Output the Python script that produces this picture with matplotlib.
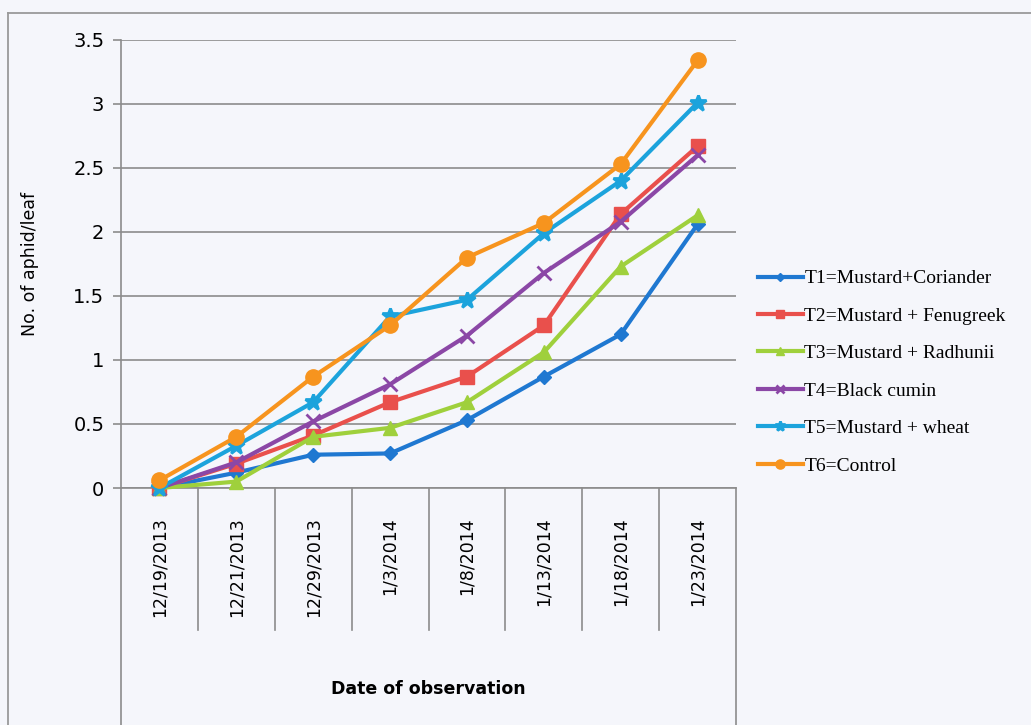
import numpy as np
import matplotlib
matplotlib.use("Agg")
import matplotlib.pyplot as plt
import matplotlib.transforms as mtransforms

dates = ["12/19/2013", "12/21/2013", "12/29/2013", "1/3/2014",
         "1/8/2014", "1/13/2014", "1/18/2014", "1/23/2014"]

t1 = [0.0, 0.12, 0.26, 0.27, 0.53, 0.87, 1.20, 2.06]
t2 = [0.0, 0.19, 0.41, 0.67, 0.87, 1.27, 2.14, 2.67]
t3 = [0.0, 0.05, 0.40, 0.47, 0.67, 1.06, 1.73, 2.13]
t4 = [0.0, 0.20, 0.52, 0.81, 1.19, 1.68, 2.08, 2.60]
t5 = [0.0, 0.33, 0.67, 1.34, 1.47, 1.99, 2.40, 3.01]
t6 = [0.06, 0.40, 0.87, 1.27, 1.80, 2.07, 2.53, 3.34]

labels = ["T1=Mustard+Coriander", "T2=Mustard + Fenugreek", "T3=Mustard + Radhunii",
          "T4=Black cumin", "T5=Mustard + wheat", "T6=Control"]
series = [t1, t2, t3, t4, t5, t6]
colors = ["#1f78d1", "#e9504c", "#9fd03c", "#8b47a6", "#1ca3dc", "#f7941e"]
markers = ["D", "s", "^", "x", "*", "o"]
msizes = [7, 10, 10, 10, 12, 11]

bg = "#f5f6fb"
fig = plt.figure(figsize=(10.31, 7.25), dpi=100, facecolor=bg)
W, H = 1031, 725
ax = fig.add_axes([121 / W, (H - 488) / H, (736 - 121) / W, (488 - 40) / H])
ax.set_facecolor(bg)

# outer chart border
fig.add_artist(plt.Line2D([8 / W, 8 / W], [0, 1 - 13 / H], transform=fig.transFigure,
                          color="#9a9a9a", lw=1.3))
fig.add_artist(plt.Line2D([8 / W, 1], [1 - 13 / H, 1 - 13 / H], transform=fig.transFigure,
                          color="#9a9a9a", lw=1.3))

x = np.arange(len(dates))
for s, lab, c, m, ms in zip(series, labels, colors, markers, msizes):
    mew = 2 if m in ("x", "*") else 1
    ax.plot(x, s, color=c, lw=3, marker=m, ms=ms, mew=mew, mec=c, mfc=c,
            label=lab, clip_on=False, zorder=3)

ax.set_xlim(-0.5, len(dates) - 0.5)
ax.set_ylim(0, 3.5)
ax.set_yticks(np.arange(0, 3.51, 0.5))
ax.set_yticklabels(["0", "0.5", "1", "1.5", "2", "2.5", "3", "3.5"])
ax.yaxis.grid(True, color="#8c8c8c", lw=1.2)
ax.set_axisbelow(True)
ax.tick_params(axis="y", length=6, color="#8c8c8c", width=1.2, labelsize=14, pad=6)
ax.set_xticks(x)
ax.set_xticklabels(dates, rotation=90, fontsize=12.5)
ax.tick_params(axis="x", length=0, pad=21)
for sp in ["top", "right"]:
    ax.spines[sp].set_visible(False)
for sp in ["left", "bottom"]:
    ax.spines[sp].set_color("#8c8c8c")
    ax.spines[sp].set_linewidth(1.2)

# category divider lines below the axis
trans = mtransforms.blended_transform_factory(ax.transData, ax.transAxes)
for b in np.arange(0.5, len(dates) - 1, 1.0):
    ax.plot([b, b], [0, -0.317], transform=trans, color="#8c8c8c", lw=1.2, clip_on=False)
for b in [-0.5, len(dates) - 0.5]:
    ax.plot([b, b], [0, -0.56], transform=trans, color="#8c8c8c", lw=1.2, clip_on=False)

ax.set_ylabel("No. of aphid/leaf", fontsize=12.5)
ax.yaxis.set_label_coords(-82 / 615, 0.5)
ax.set_xlabel("Date of observation", fontsize=12.5, fontweight="bold")
ax.xaxis.set_label_coords(0.5, -(680 - 488) / 448)

leg = fig.legend(loc="upper left", bbox_to_anchor=(750 / W, 1 - 262 / H),
                 frameon=False, prop={"family": "Liberation Serif", "size": 14},
                 handlelength=2.3, handletextpad=0.1, labelspacing=1.02,
                 markerscale=0.6, borderaxespad=0)

fig.savefig("out.png", dpi=100, facecolor=bg)
